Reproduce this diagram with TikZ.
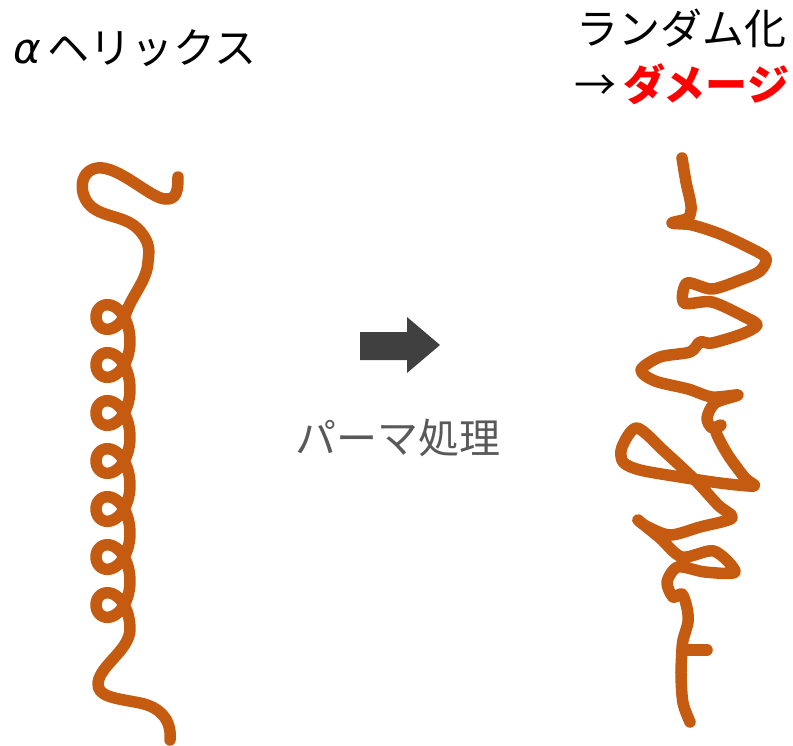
\documentclass[tikz,border=0pt]{standalone}
\usepackage{fontspec}
\newfontfamily\jp{Noto Sans CJK JP}
\newfontfamily\greekslant{DejaVu Sans}
\definecolor{strand}{HTML}{C55A11}
\definecolor{arrowgray}{HTML}{404040}
\definecolor{labelgray}{HTML}{595959}
\definecolor{damage}{HTML}{FF0000}
\tikzset{
  fibre/.style={draw=strand, line width=11.5pt, line cap=round, line join=round},
  heading/.style={inner sep=0pt, font=\jp\fontsize{42pt}{46pt}\selectfont},
  caption/.style={inner sep=0pt, text=labelgray, font=\jp\fontsize{41pt}{46pt}\selectfont}
}
\begin{document}
\begin{tikzpicture}[x=1pt, y=-1pt]
  \useasboundingbox (0,0) rectangle (793,745);

  % headings
  \node[heading, anchor=west] (helixtitle) at (13,48) {{\greekslant\itshape α}\,ヘリックス};
  \node[heading, anchor=west] (randtitle) at (576,28) {ランダム化};
  \node[heading, anchor=west] (damagetitle) at (574,84) {→\,\textcolor{damage}{\bfseries ダメージ}};

  % alpha helix: lead-in, regular coil, tail
  \path[fibre]
    (178,177) .. controls (178,190) and (177,200) .. (165,199)
    .. controls (150,198) and (118,165) .. (97,168)
    .. controls (78,171) and (78,197) .. (93,208)
    .. controls (107,218) and (127,216) .. (140,231)
    .. controls (151,244) and (149,252) .. (148,262)
    .. controls (147,280) and (132.8,294.6) .. (127.03,310.61)
    -- plot[domain=0.6:43.98, samples=500, variable=\t]
       ({113+17*cos(\t r)}, {293+7.64*\t+23*sin(\t r)})
    .. controls (130,650) and (100,665) .. (98,683)
    .. controls (97,697) and (115,698) .. (140,703)
    .. controls (160,707) and (172,720) .. (170,740);

  % processing arrow and caption
  \fill[arrowgray] (360,332) -- (407,332) -- (407,317) -- (440,345)
    -- (407,373) -- (407,360) -- (360,360) -- cycle;
  \node[caption] (perm) at (398,438) {パーマ処理};

  % randomised strand
  \path[fibre] plot[smooth, tension=0.5] coordinates {
    (682,158) (686,182) (691,206) (688,218) (672,223) (692,225)
    (720,234) (750,248) (766,258) (760,271) (740,280) (712,289)
    (687,283) (684,303) (712,302) (745,317) (757,325) (742,334)
    (712,343) (700,342) (690,352) (660,357) (641,370) (655,381)
    (688,389) (712,397) (738,395) (715,403) (707,418) (712,428)
    (721,425) (716,432) (728,455) (745,478) (754,486) (720,483)
    (680,477) (640,470) (623,462) (622,447) (637,428) (665,452)
    (695,480) (718,505) (732,518) (700,527) (670,535) (646,526)
    (638,520) (660,538) (682,557) (714,551) (735,572) (705,572)
    (678,567) (667,582) (673,597) (682,594) (687,608) (688,622)
    (683,640) (682,650) (681,675) (683,703) (690,722)};
  \path[fibre] (682,650) -- (707,650);
\end{tikzpicture}
\end{document}
